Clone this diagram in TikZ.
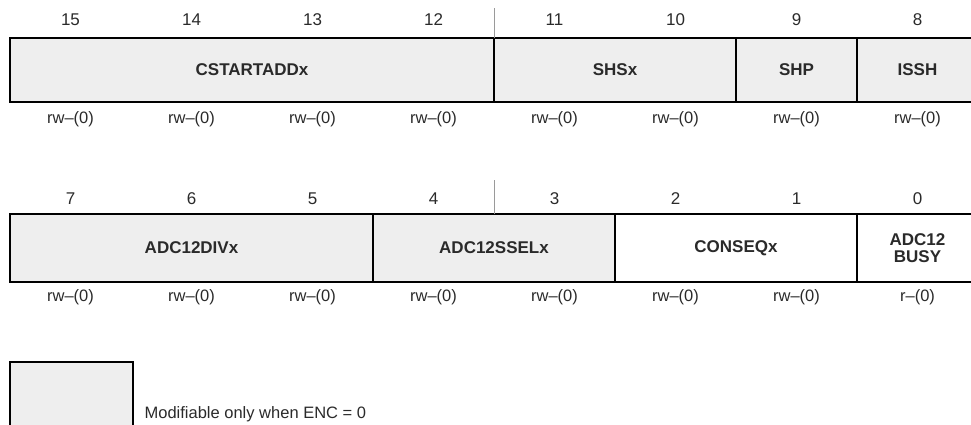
\documentclass[tikz,border=0pt]{standalone}
\usepackage{fontspec}
\setmainfont{Liberation Sans}
\usetikzlibrary{positioning}
\definecolor{cfield}{HTML}{EEEEEE}
\definecolor{cgrey}{HTML}{9A9A9A}
\definecolor{ctext}{HTML}{2A2A2A}
\tikzset{
  every picture/.style={font=\fontsize{16}{17}\selectfont, line width=2.6pt},
  field/.style={draw=black, fill=#1, anchor=north west, outer sep=0pt, inner sep=0pt, align=center, text=ctext, font=\fontsize{17}{17}\selectfont\bfseries},
  field/.default=cfield,
  bitno/.style={text=ctext, font=\fontsize{17}{17}\selectfont},
  access/.style={text=ctext, font=\fontsize{16.5}{17}\selectfont},
  tick/.style={draw=cgrey, line width=1pt},
}

\begin{document}
\begin{tikzpicture}[x=1pt, y=-1pt]
  \useasboundingbox (0,0) rectangle (971,425);
  % upper byte: bits 15..8
  \foreach \b [count=\i from 0] in {15,14,...,8} {
    \node[bitno] (n\b) at ({70.5+121*\i},20) {\b};
    \node[access] (a\b) at ({70.5+121*\i},119) {rw–(0)};
  }
  \node[field, minimum width=484pt, minimum height=64pt] (cstart) at (10,38) {CSTARTADDx};
  \node[field, minimum width=242pt, minimum height=64pt, right=0pt of cstart] (shs) {SHSx};
  \node[field, minimum width=121pt, minimum height=64pt, right=0pt of shs] (shp) {SHP};
  \node[field, minimum width=121pt, minimum height=64pt, right=0pt of shp] (issh) {ISSH};
  \draw[tick] (cstart.north east) -- ++(0,-30);
  % lower byte: bits 7..0
  \foreach \b/\acc [count=\i from 0] in {7/rw,6/rw,5/rw,4/rw,3/rw,2/rw,1/rw,0/r} {
    \node[bitno] (n\b) at ({70.5+121*\i},199) {\b};
    \node[access] (a\b) at ({70.5+121*\i},297) {\acc–(0)};
  }
  \node[field, minimum width=363pt, minimum height=68pt] (div) at (10,214) {ADC12DIVx};
  \node[field, minimum width=242pt, minimum height=68pt, right=0pt of div] (ssel) {ADC12SSELx};
  \node[field=white, minimum width=242pt, minimum height=68pt, right=0pt of ssel] (conseq) {CONSEQx};
  \node[field=white, minimum width=121pt, minimum height=68pt, right=0pt of conseq] (busy) {ADC12\\BUSY};
  \draw[tick] (ssel.north) -- ++(0,-34);
  % legend
  \node[field, minimum width=123pt, minimum height=70pt] (legend) at (10,362) {};
  \node[access, anchor=west] (legtxt) at (140,414) {Modifiable only when ENC = 0};
\end{tikzpicture}
\end{document}
